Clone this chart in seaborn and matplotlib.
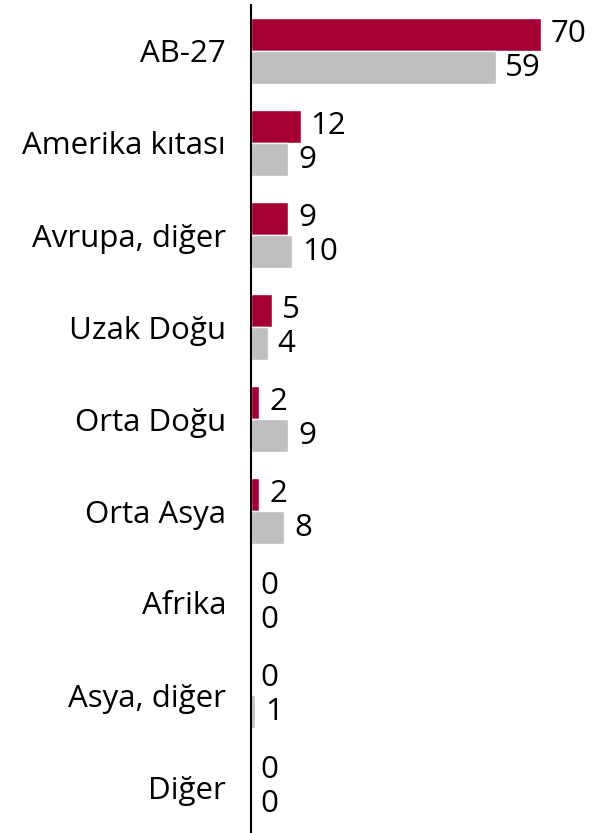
import pandas as pd
import numpy as np
import seaborn as sns
import matplotlib.pyplot as plt

# Region shares (two series, red = current, gray = comparison)
regions = ['AB-27', 'Amerika kıtası', 'Avrupa, diğer', 'Uzak Doğu', 'Orta Doğu',
           'Orta Asya', 'Afrika', 'Asya, diğer', 'Diğer']
series_a = [70, 12, 9, 5, 2, 2, 0, 0, 0]
series_b = [59, 9, 10, 4, 9, 8, 0, 1, 0]
series_names = ['A', 'B']

df = pd.DataFrame({
    'region': regions * 2,
    'value': series_a + series_b,
    'series': [series_names[0]] * len(regions) + [series_names[1]] * len(regions),
})

sns.set_style('white')
plt.rcParams['font.family'] = ['Open Sans', 'DejaVu Sans']

fig = plt.figure(figsize=(5.95, 8.33), dpi=100)
ax = fig.add_axes([251 / 595, 0, 1 - 251 / 595, 828 / 833])

sns.barplot(data=df, y='region', x='value', hue='series', order=regions,
            hue_order=series_names, palette=['#A50034', '#BFBFBF'],
            orient='h', width=0.72, ax=ax, legend=False, saturation=1)

for cont in ax.containers:
    ax.bar_label(cont, labels=[f'{int(v)}' for v in cont.datavalues],
                 padding=7, fontsize=22.5, color='black')

ax.set_xlim(0, 83)
ax.set_ylim(len(regions) - 0.5, -0.5)
ax.set_xlabel('')
ax.set_ylabel('')
ax.set_xticks([])
ax.tick_params(axis='y', length=0, pad=18, labelsize=22.5, labelcolor='black')
for s in ['top', 'right', 'bottom']:
    ax.spines[s].set_visible(False)
ax.spines['left'].set_color('black')
ax.spines['left'].set_linewidth(1.5)

fig.savefig('out.png', dpi=100)
